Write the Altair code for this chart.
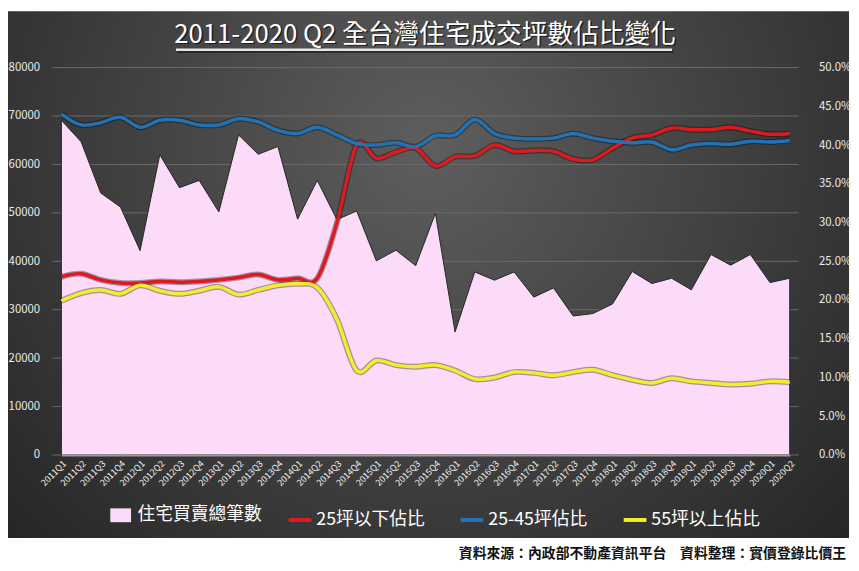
import altair as alt
import pandas as pd

quarters = [
    "2011Q1", "2011Q2", "2011Q3", "2011Q4", "2012Q1", "2012Q2", "2012Q3", "2012Q4",
    "2013Q1", "2013Q2", "2013Q3", "2013Q4", "2014Q1", "2014Q2", "2014Q3", "2014Q4",
    "2015Q1", "2015Q2", "2015Q3", "2015Q4", "2016Q1", "2016Q2", "2016Q3", "2016Q4",
    "2017Q1", "2017Q2", "2017Q3", "2017Q4", "2018Q1", "2018Q2", "2018Q3", "2018Q4",
    "2019Q1", "2019Q2", "2019Q3", "2019Q4", "2020Q1", "2020Q2",
]
total_deals = [
    69100, 64700, 54100, 51200, 42200, 62000, 55200, 56700,
    50200, 66100, 62100, 63700, 48700, 56700, 48600, 50400,
    40100, 42300, 39100, 49900, 25400, 37800, 36100, 37800,
    32600, 34500, 28700, 29200, 31200, 37900, 35400, 36500,
    34100, 41400, 39200, 41400, 35600, 36500,
]
share_under25 = [
    23.0, 23.4, 22.6, 22.2, 22.2, 22.4, 22.3, 22.4,
    22.6, 22.9, 23.3, 22.6, 22.8, 22.8, 30.0, 40.0,
    38.3, 39.1, 39.6, 37.3, 38.5, 38.6, 40.0, 39.2,
    39.3, 39.2, 38.2, 38.1, 39.6, 40.9, 41.3, 42.2,
    42.0, 42.0, 42.3, 41.8, 41.4, 41.5,
]
share_25_45 = [
    44.0, 42.6, 42.9, 43.6, 42.3, 43.2, 43.2, 42.6,
    42.6, 43.4, 43.0, 41.9, 41.5, 42.3, 41.3, 40.2,
    40.0, 40.3, 39.8, 41.2, 41.3, 43.3, 41.5, 40.9,
    40.8, 40.9, 41.5, 40.9, 40.5, 40.3, 40.4, 39.4,
    40.0, 40.2, 40.1, 40.5, 40.4, 40.6,
]
share_over55 = [
    19.9, 20.9, 21.3, 20.8, 21.9, 21.2, 20.8, 21.2,
    21.7, 20.7, 21.3, 21.9, 22.1, 21.6, 17.5, 10.9,
    12.2, 11.6, 11.4, 11.6, 10.9, 9.8, 10.0, 10.7,
    10.6, 10.3, 10.7, 11.0, 10.3, 9.7, 9.3, 9.9,
    9.5, 9.3, 9.1, 9.2, 9.5, 9.4,
]
left_ticks = [0, 10000, 20000, 30000, 40000, 50000, 60000, 70000, 80000]
right_ticks = [0, 5, 10, 15, 20, 25, 30, 35, 40, 45, 50]

S_TOTAL = "住宅買賣總筆數"
S1, S2, S3 = "25坪以下佔比", "25-45坪佔比", "55坪以上佔比"
TITLE = "2011-2020 Q2 全台灣住宅成交坪數佔比變化"
SOURCE = "資料來源：內政部不動產資訊平台　資料整理：實價登錄比價王"

PINK, RED, BLUE, YELLOW = "#fcdbf8", "#dd1a20", "#2272b6", "#f6ec2c"
FONT = "Noto Sans CJK TC"
LABEL = "#ececec"
GRID = "#6c6c6c"

W, H = 737, 392

df_area = pd.DataFrame({"q": quarters, "v": total_deals, "s": S_TOTAL})
df_lines = pd.concat([
    pd.DataFrame({"q": quarters, "p": share_under25, "s": S1}),
    pd.DataFrame({"q": quarters, "p": share_25_45, "s": S2}),
    pd.DataFrame({"q": quarters, "p": share_over55, "s": S3}),
], ignore_index=True)
df_grid = pd.DataFrame({"v": left_ticks})
one = alt.Data(values=[{"a": 1}])

x_enc = alt.X(
    "q:N", sort=quarters, scale=alt.Scale(type="point", padding=0),
    axis=alt.Axis(title=None, labelAngle=-45, labelFontSize=9, labelColor=LABEL,
                  labelFont=FONT, ticks=False, labelPadding=4, domainColor="#9a9a9a",
                  domainWidth=2, grid=False, zindex=1),
)
left_scale = alt.Scale(domain=[0, 80000], nice=False)
right_scale = alt.Scale(domain=[0, 50], nice=False)
left_axis = alt.Axis(values=left_ticks, format="d", title=None, grid=False, ticks=False,
                     domain=False, labelPadding=22, labelColor=LABEL, labelFont=FONT,
                     labelFontSize=11.5, zindex=1)
right_axis = alt.Axis(orient="right", values=right_ticks,
                      labelExpr="format(datum.value, '.1f') + '%'", title=None,
                      grid=False, ticks=False, domain=False, labelPadding=29,
                      labelColor=LABEL, labelFont=FONT, labelFontSize=11.5, zindex=1)

bg = alt.Chart(one).mark_rect(
    color={"gradient": "radial",
           "stops": [{"offset": 0, "color": "#5e5e5e"}, {"offset": 1, "color": "#1c1c1c"}],
           "x1": 0.5, "y1": 0.35, "r1": 0, "x2": 0.5, "y2": 0.35, "r2": 0.8}
).encode(x=alt.value(-54), x2=alt.value(797), y=alt.value(-57), y2=alt.value(476))

grid = alt.Chart(df_grid).mark_rule(color=GRID, strokeWidth=1).encode(
    y=alt.Y("v:Q", scale=left_scale, axis=left_axis),
    x=alt.value(-9), x2=alt.value(W + 9),
)

area = alt.Chart(df_area).mark_area(stroke="#262626", strokeWidth=1).encode(
    x=x_enc,
    y=alt.Y("v:Q", scale=left_scale, axis=left_axis),
    fill=alt.Fill("s:N", scale=alt.Scale(domain=[S_TOTAL], range=[PINK]),
                  legend=alt.Legend(title=None, orient="none", legendX=51, legendY=444,
                                    symbolType="M-1.5,-1H1.5V1H-1.5Z", symbolSize=196,
                                    symbolStrokeWidth=0, labelFont=FONT, labelFontSize=18,
                                    labelColor="white", labelOffset=8, padding=0,
                                    direction="horizontal")),
)

left_layer = alt.layer(grid, area)

shadow = alt.Chart(df_lines).mark_line(interpolate="cardinal", strokeWidth=6, color="#000000",
                                       opacity=0.35).encode(
    x=x_enc,
    y=alt.Y("p:Q", scale=right_scale, axis=right_axis),
    detail="s:N",
)
lines = alt.Chart(df_lines).mark_line(interpolate="cardinal", strokeWidth=3.5).encode(
    x=x_enc,
    y=alt.Y("p:Q", scale=right_scale, axis=right_axis),
    stroke=alt.Stroke("s:N", scale=alt.Scale(domain=[S1, S2, S3], range=[RED, BLUE, YELLOW]),
                      legend=alt.Legend(title=None, orient="none", legendX=228, legendY=444,
                                        symbolType="stroke", symbolSize=529,
                                        symbolStrokeWidth=4, labelFont=FONT,
                                        labelFontSize=18, labelColor="white", labelOffset=3,
                                        columnPadding=28, padding=0,
                                        direction="horizontal")),
)
right_layer = alt.layer(shadow, lines)

title_shadow = alt.Chart(one).mark_text(
    text=TITLE, font=FONT, fontSize=26, color="#000000", opacity=0.6, align="center",
    baseline="alphabetic"
).encode(x=alt.value(369.5), y=alt.value(-23.5))
title_text = alt.Chart(one).mark_text(
    text=TITLE, font=FONT, fontSize=26, color="#ffffff", align="center", baseline="alphabetic"
).encode(x=alt.value(368), y=alt.value(-25))
underline_shadow = alt.Chart(one).mark_rule(color="#000000", strokeWidth=3, opacity=0.5).encode(
    x=alt.value(117), x2=alt.value(619), y=alt.value(-16.5))
underline = alt.Chart(one).mark_rule(color="#e6e6e6", strokeWidth=2.5).encode(
    x=alt.value(116), x2=alt.value(618), y=alt.value(-18))
source = alt.Chart(one).mark_text(
    text=SOURCE, font=FONT, fontSize=14, fontWeight="bold", color="#111111", align="right",
    baseline="alphabetic"
).encode(x=alt.value(794), y=alt.value(496))

chart = alt.layer(
    bg, left_layer, right_layer, title_shadow, title_text, underline_shadow, underline, source
).resolve_scale(y="independent").properties(
    width=W, height=H, padding=0, background="white"
).configure_view(strokeWidth=0)

chart.save("out.html", embed_options={"renderer": "svg", "actions": False})
